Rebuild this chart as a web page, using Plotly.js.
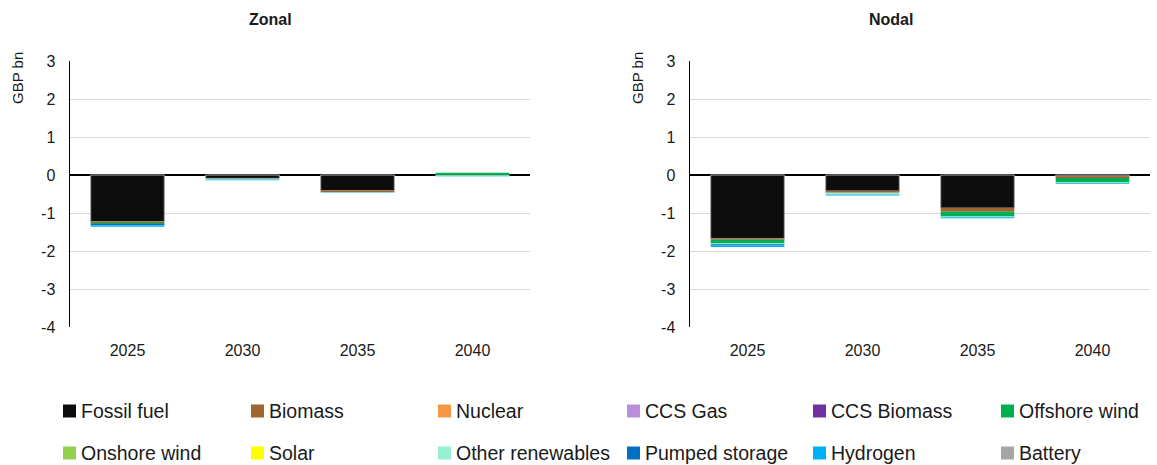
<!DOCTYPE html>
<html>
<head>
<meta charset="utf-8">
<script src="https://cdn.plot.ly/plotly-3.0.1.min.js"></script>
<style>html,body{margin:0;padding:0;background:#fff;}#chart{width:1157px;height:465px;}</style>
</head>
<body>
<div id="chart"></div>
<script>
// ---- Data ----
const years = ['2025', '2030', '2035', '2040'];
const yTickVals = [3, 2, 1, 0, -1, -2, -3, -4];
const yTickText = ['3', '2', '1', '0', '-1', '-2', '-3', '-4'];
const seriesNames = ['Fossil fuel', 'Biomass', 'Nuclear', 'CCS Gas', 'CCS Biomass', 'Offshore wind',
                     'Onshore wind', 'Solar', 'Other renewables', 'Pumped storage', 'Hydrogen', 'Battery'];
const seriesColors = ['#0d0d0d', '#9c6531', '#f79646', '#bb8edb', '#7030a0', '#00b050',
                      '#92d050', '#ffff00', '#96f0d4', '#0070c0', '#00b0f0', '#a6a6a6'];

// Zonal values (GBP bn), one array per technology
const zonalFossil    = [-1.23, -0.09, -0.41, -0.01];
const zonalBiomass   = [-0.03, -0.01, -0.045, 0];
const zonalNuclear   = [0, 0, 0, 0];
const zonalCCSGas    = [0, 0, 0, 0];
const zonalCCSBio    = [0, 0, 0, 0];
const zonalOffshore  = [-0.03, 0, 0, 0.06];
const zonalOnshore   = [0, 0, 0, 0];
const zonalSolar     = [0, 0, 0, 0];
const zonalOtherRen  = [0, -0.02, -0.01, -0.02];
const zonalPumped    = [-0.03, 0, 0, 0];
const zonalHydrogen  = [-0.04, -0.02, -0.01, -0.01];
const zonalBattery   = [0, 0, 0, 0];

// Nodal values (GBP bn)
const nodalFossil    = [-1.67, -0.42, -0.87, -0.03];
const nodalBiomass   = [-0.035, -0.05, -0.095, -0.05];
const nodalNuclear   = [0, 0, 0, 0];
const nodalCCSGas    = [0, 0, 0, 0];
const nodalCCSBio    = [0, 0, 0, 0];
const nodalOffshore  = [-0.095, 0, -0.13, -0.12];
const nodalOnshore   = [0, 0, 0, 0];
const nodalSolar     = [0, 0, 0, 0];
const nodalOtherRen  = [-0.025, -0.045, -0.02, -0.02];
const nodalPumped    = [-0.025, 0, 0, 0];
const nodalHydrogen  = [-0.045, -0.025, -0.02, -0.02];
const nodalBattery   = [0, 0, 0, 0];

const zonalSeries = [zonalFossil, zonalBiomass, zonalNuclear, zonalCCSGas, zonalCCSBio, zonalOffshore,
                     zonalOnshore, zonalSolar, zonalOtherRen, zonalPumped, zonalHydrogen, zonalBattery];
const nodalSeries = [nodalFossil, nodalBiomass, nodalNuclear, nodalCCSGas, nodalCCSBio, nodalOffshore,
                     nodalOnshore, nodalSolar, nodalOtherRen, nodalPumped, nodalHydrogen, nodalBattery];

// ---- Layout helpers (pixel -> paper) ----
const W = 1157, H = 465;
const px = x => x / W;
const py = y => 1 - y / H;
const FONT = 'Liberation Sans, Arial, sans-serif';
const TXT = '#1a1a1a';

const traces = [];
function addPanel(series, xa, ya) {
  series.forEach((vals, i) => {
    traces.push({
      type: 'bar', x: years, y: vals, name: seriesNames[i],
      xaxis: xa, yaxis: ya, width: 0.64, showlegend: false,
      marker: { color: seriesColors[i], line: { color: '#a6a6a6', width: i === 0 ? 1 : 0 } },
      hoverinfo: 'x+y+name'
    });
  });
}
addPanel(zonalSeries, 'x', 'y');
addPanel(nodalSeries, 'x2', 'y2');

const yAxisCommon = {
  range: [-4, 3], tickmode: 'array', tickvals: yTickVals, ticktext: yTickText,
  showgrid: true, gridcolor: '#d9d9d9', gridwidth: 1,
  zeroline: true, zerolinecolor: '#000', zerolinewidth: 2,
  showline: true, linecolor: '#000', linewidth: 1.5,
  ticks: '', ticklabelstandoff: 10, tickfont: { family: FONT, size: 16, color: TXT },
  domain: [py(327), py(61)], fixedrange: true
};
const xAxisCommon = {
  type: 'category', showgrid: false, zeroline: false, showline: false, ticks: '',
  tickfont: { family: FONT, size: 16, color: TXT }, ticklabelstandoff: 12, fixedrange: true
};

const annotations = [
  { text: '<b>Zonal</b>', x: px(270), y: py(20), xref: 'paper', yref: 'paper', showarrow: false,
    font: { family: FONT, size: 16, color: TXT }, xanchor: 'center', yanchor: 'middle' },
  { text: '<b>Nodal</b>', x: px(891), y: py(20), xref: 'paper', yref: 'paper', showarrow: false,
    font: { family: FONT, size: 16, color: TXT }, xanchor: 'center', yanchor: 'middle' },
  { text: 'GBP bn', x: px(18), y: py(78), xref: 'paper', yref: 'paper', showarrow: false, textangle: -90,
    font: { family: FONT, size: 15, color: TXT }, xanchor: 'center', yanchor: 'middle' },
  { text: 'GBP bn', x: px(638), y: py(78), xref: 'paper', yref: 'paper', showarrow: false, textangle: -90,
    font: { family: FONT, size: 15, color: TXT }, xanchor: 'center', yanchor: 'middle' }
];

// ---- Manual legend (two rows of six) ----
const legendCols = [63, 251, 438, 627, 813, 1001];
const legendRows = [411, 453];
const shapes = [];
seriesNames.forEach((name, i) => {
  const cx = legendCols[i % 6], cy = legendRows[Math.floor(i / 6)];
  shapes.push({ type: 'rect', xref: 'paper', yref: 'paper',
    x0: px(cx), x1: px(cx + 13), y0: py(cy + 6.5), y1: py(cy - 6.5),
    fillcolor: seriesColors[i], line: { width: 0 } });
  annotations.push({ text: name, x: px(cx + 16), y: py(cy), xref: 'paper', yref: 'paper',
    showarrow: false, xanchor: 'left', yanchor: 'middle',
    font: { family: FONT, size: 19.5, color: TXT } });
});

const layout = {
  width: W, height: H, margin: { l: 0, r: 0, t: 0, b: 0 },
  paper_bgcolor: '#fff', plot_bgcolor: '#fff',
  barmode: 'relative', bargap: 0.36, showlegend: false,
  xaxis: Object.assign({}, xAxisCommon, { domain: [px(70), px(530)], anchor: 'y' }),
  yaxis: Object.assign({}, yAxisCommon, { anchor: 'x' }),
  xaxis2: Object.assign({}, xAxisCommon, { domain: [px(690), px(1150)], anchor: 'y2' }),
  yaxis2: Object.assign({}, yAxisCommon, { anchor: 'x2' }),
  annotations: annotations, shapes: shapes
};

Plotly.newPlot('chart', traces, layout, { displayModeBar: false, staticPlot: true });
</script>
</body>
</html>
